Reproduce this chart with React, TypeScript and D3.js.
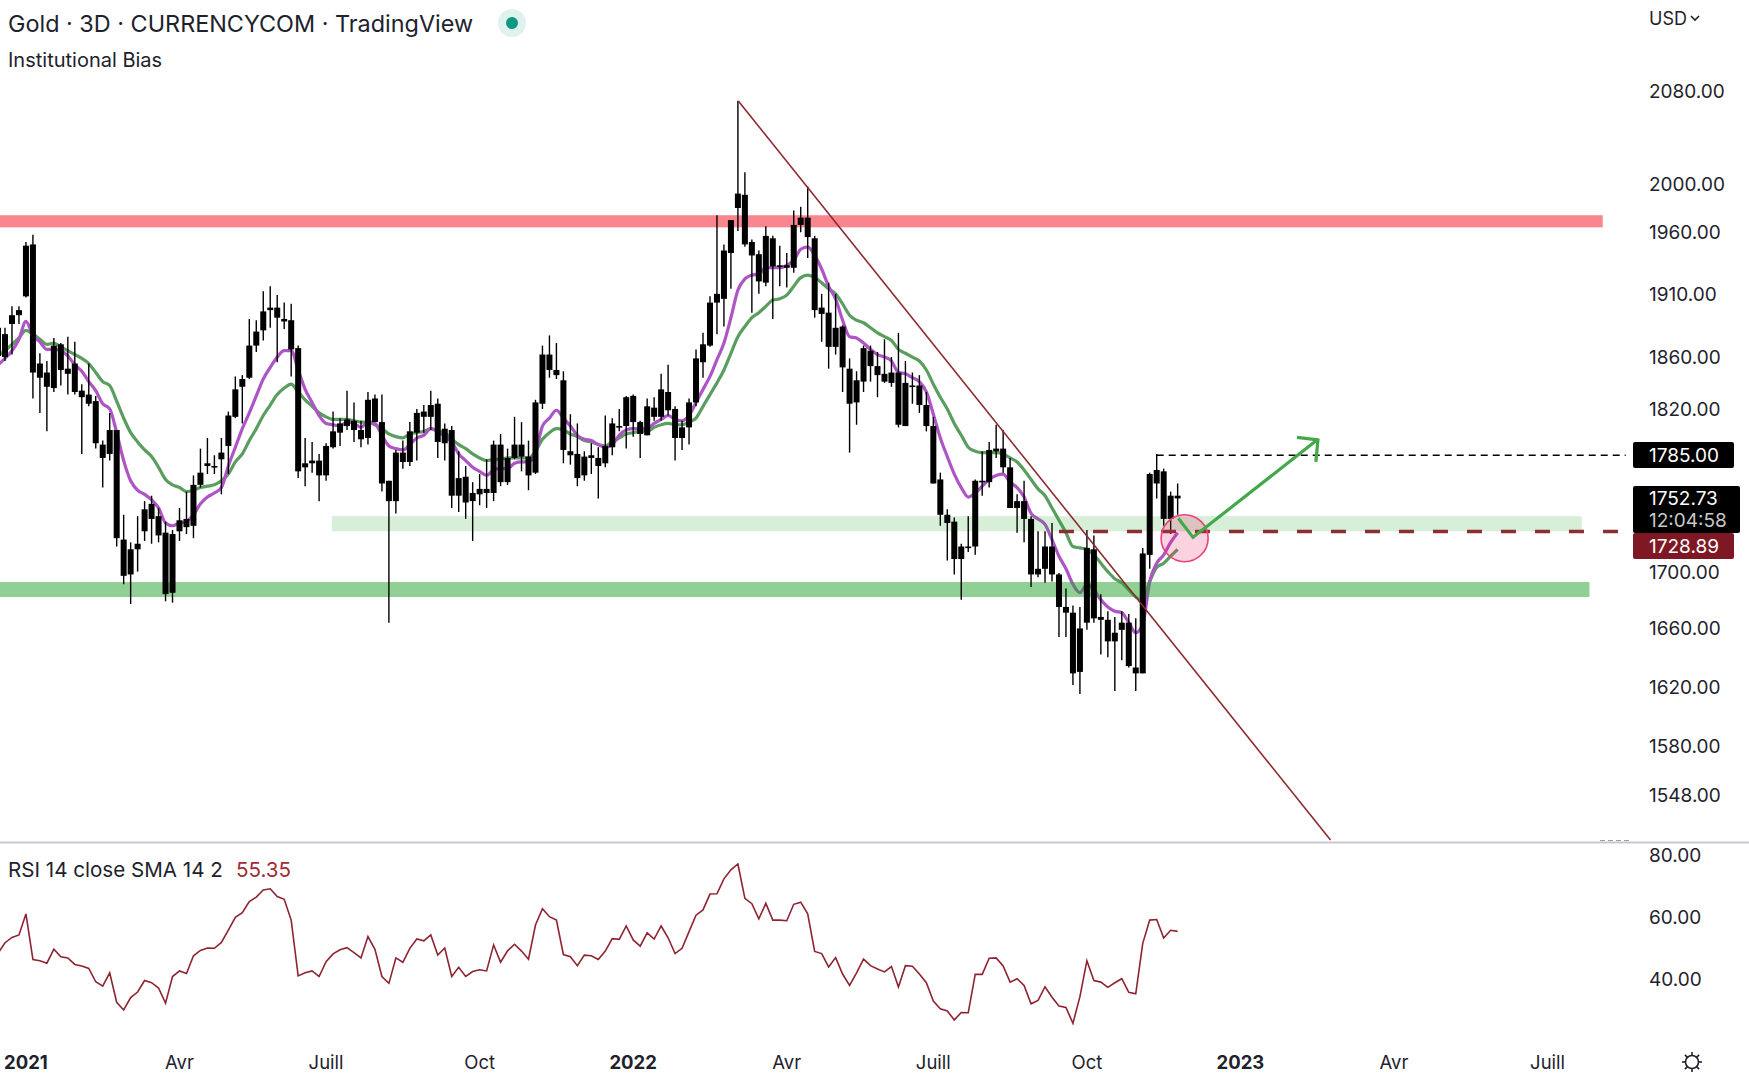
import React from "react";
import * as d3 from "d3";

const highs = [1884,1883,1900,1900,1952,1958,1863,1857,1875,1871,1876,1872,1839,1855,1830,1796,1817,1804,1741,1721,1740,1751,1755,1746,1736,1730,1746,1758,1770,1790,1798,1785,1798,1818,1845,1846,1890,1889,1912,1916,1909,1903,1902,1869,1798,1795,1786,1794,1818,1813,1834,1825,1811,1833,1831,1831,1766,1789,
1796,1810,1820,1823,1834,1828,1809,1807,1788,1777,1765,1771,1782,1796,1801,1790,1814,1810,1796,1827,1869,1877,1871,1849,1816,1809,1788,1794,1791,1815,1813,1820,1830,1831,1811,1828,1829,1847,1854,1822,1811,1828,1866,1879,1908,1974,1950,1970,
2071,2010,1954,1945,1965,1957,1949,1943,1978,1981,1998,1957,1910,1919,1910,1885,1859,1849,1869,1869,1864,1874,1860,1879,1857,1848,1846,1833,1814,
1772,1745,1739,1720,1740,1767,1788,1795,1808,1804,1783,1756,1766,1740,1729,1729,1735,1699,1688,1676,1675,1730,1726,1684,1672,1668,1672,1670,1667,1717,1772,1786,1775,1758,1764];
const bodyHighs = [1883,1878,1893,1897,1949,1950,1855,1848,1869,1870,1851,1855,1834,1831,1826,1793,1804,1804,1723,1716,1720,1745,1749,1740,1728,1727,1737,1738,1763,1772,1779,1777,1787,1815,1835,1843,1869,1880,1896,1899,1899,1890,1889,1867,1779,1781,1781,1792,1803,1809,1812,1811,1804,1827,1828,1810,1766,1787,
1787,1803,1817,1818,1823,1824,1805,1804,1768,1769,1757,1760,1760,1793,1793,1783,1793,1793,1784,1825,1862,1862,1850,1842,1788,1786,1784,1785,1783,1792,1809,1807,1829,1830,1810,1822,1821,1835,1833,1820,1806,1825,1859,1870,1903,1910,1945,1970,
1992,1991,1952,1942,1957,1955,1933,1933,1966,1972,1972,1955,1899,1895,1883,1884,1851,1842,1867,1865,1853,1847,1848,1848,1840,1838,1838,1823,1807,
1767,1741,1736,1718,1718,1766,1766,1789,1790,1790,1776,1751,1751,1738,1702,1718,1718,1698,1675,1671,1660,1717,1716,1668,1666,1657,1664,1664,1633,1713,1771,1774,1773,1755,1755];
const bodyLows = [1861,1860,1886,1893,1908,1848,1844,1837,1836,1850,1847,1833,1829,1824,1794,1783,1786,1724,1697,1698,1716,1729,1738,1726,1684,1685,1729,1732,1733,1763,1777,1776,1782,1792,1814,1837,1844,1869,1881,1897,1891,1888,1866,1773,1776,1779,1770,1770,1791,1802,1807,1804,1797,1798,1810,1764,1751,1751,
1780,1780,1802,1814,1814,1795,1794,1755,1755,1750,1751,1756,1757,1757,1765,1765,1783,1784,1770,1772,1824,1850,1846,1789,1785,1768,1770,1783,1777,1779,1791,1806,1807,1810,1801,1800,1814,1814,1819,1798,1798,1806,1825,1856,1869,1903,1906,1943,
1980,1950,1941,1920,1919,1932,1932,1931,1931,1966,1956,1897,1894,1868,1868,1852,1824,1825,1841,1853,1846,1841,1840,1808,1807,1837,1823,1807,1764,
1741,1735,1709,1709,1717,1718,1765,1765,1788,1776,1746,1746,1738,1698,1698,1702,1698,1675,1671,1629,1630,1664,1667,1666,1651,1651,1659,1634,1629,1629,1712,1764,1738,1738,1753];
const lows = [1858,1857,1862,1886,1907,1828,1817,1803,1833,1838,1831,1831,1786,1822,1790,1761,1781,1718,1691,1677,1700,1722,1720,1721,1679,1678,1722,1727,1724,1761,1771,1771,1756,1771,1813,1809,1843,1864,1873,1883,1856,1882,1845,1768,1762,1772,1751,1766,1790,1792,1804,1795,1791,1793,1810,1758,1664,1742,
1775,1777,1781,1802,1804,1783,1781,1746,1743,1738,1722,1748,1746,1751,1762,1763,1782,1773,1759,1771,1820,1844,1843,1779,1778,1762,1766,1771,1753,1776,1785,1803,1790,1799,1783,1800,1811,1811,1815,1781,1789,1793,1822,1844,1868,1878,1884,1914,
1961,1948,1895,1910,1916,1890,1916,1915,1927,1960,1939,1891,1872,1851,1862,1833,1787,1808,1833,1841,1829,1840,1837,1806,1807,1824,1817,1803,1764,
1733,1708,1698,1680,1714,1712,1755,1761,1783,1772,1746,1728,1721,1689,1696,1692,1693,1654,1654,1621,1615,1659,1664,1642,1640,1617,1638,1633,1617,1629,1702,1753,1733,1727,1741];

const purpleLine = [1854,1859,1865,1874,1888,1877,1872,1866,1866,1865,1861,1854,1849,1841,1834,1824,1820,1802,1781,1766,1759,1756,1752,1746,1735,1733,1735,1736,1741,1749,1754,1757,1761,1777,1791,1805,1817,1830,1843,1852,1860,1865,1865,1850,1835,1825,1815,1809,1808,1807,1810,1809,1806,1810,1809,1800,1792,1790,
1789,1793,1798,1800,1805,1803,1799,1795,1786,1781,1776,1773,1770,1774,1775,1775,1779,1780,1780,1787,1807,1813,1819,1813,1807,1800,1797,1796,1793,1791,1793,1800,1804,1805,1805,1805,1809,1812,1815,1812,1811,1815,1825,1835,1845,1858,1871,1891,
1913,1922,1925,1926,1931,1931,1931,1933,1937,1946,1948,1941,1930,1916,1906,1889,1876,1875,1871,1866,1862,1860,1857,1848,1847,1844,1841,1833,1816,
1798,1784,1771,1761,1754,1757,1762,1767,1770,1771,1765,1761,1754,1742,1738,1734,1723,1711,1702,1691,1685,1691,1687,1680,1675,1672,1671,1664,1657,1663,1693,1706,1712,1721,1728];
const greenLine = [1861,1865,1870,1875,1881,1878,1874,1870,1871,1868,1865,1862,1859,1855,1848,1841,1838,1826,1813,1802,1795,1789,1784,1776,1767,1763,1761,1758,1759,1761,1762,1763,1766,1771,1780,1786,1796,1805,1815,1823,1831,1836,1839,1833,1827,1822,1817,1814,1812,1812,1812,1811,1810,1810,1808,1805,1801,1799,
1798,1801,1802,1803,1805,1803,1802,1797,1793,1790,1786,1783,1781,1782,1782,1783,1783,1783,1783,1788,1797,1802,1805,1804,1801,1799,1796,1795,1793,1792,1795,1798,1801,1802,1803,1803,1806,1808,1809,1808,1808,1810,1813,1822,1831,1840,1850,1863,
1876,1884,1891,1895,1900,1905,1906,1909,1916,1923,1925,1923,1919,1914,1910,1902,1893,1889,1887,1883,1879,1876,1873,1866,1863,1860,1857,1850,1839,
1829,1820,1809,1800,1791,1788,1787,1787,1787,1786,1783,1780,1774,1767,1760,1755,1746,1737,1728,1718,1717,1716,1712,1706,1700,1695,1692,1687,1682,1680,1693,1703,1706,1711,1716];

const rsiValues = [48.3,51.7,53.4,54.2,61.0,46.3,45.9,45.1,49.6,47.2,46.8,44.7,44.2,43.4,39.1,37.7,42.0,32.5,30.0,34.0,35.8,39.5,38.8,37.1,32.2,40.8,42.6,41.8,47.5,49.2,50.0,49.9,51.8,55.8,59.9,61.4,65.0,66.4,68.7,69.1,66.6,65.7,59.0,41.0,42.0,42.6,40.8,45.6,48.1,49.4,50.1,48.5,46.8,53.7,49.6,40.8,38.6,46.8,45.4,49.9,52.9,52.3,54.2,47.7,50.0,40.8,43.8,40.8,42.4,43.0,42.6,51.0,45.4,49.1,51.2,49.0,46.4,57.4,62.7,60.1,59.0,47.9,47.2,44.3,47.7,47.5,46.3,49.0,53.0,52.8,57.1,52.6,50.6,54.9,52.9,57.1,53.3,48.2,49.9,55.3,60.6,62.3,67.4,67.5,72.3,75.2,77.1,66.0,64.3,59.4,64.4,59.0,59.0,58.8,64.1,64.8,61.0,48.9,48.2,43.9,46.9,41.6,37.9,42.0,46.4,44.3,43.2,42.3,44.0,37.4,44.3,44.1,41.6,38.8,32.9,30.4,29.7,26.8,29.2,29.1,41.5,41.5,46.7,46.8,44.2,39.0,40.1,37.9,32.0,33.1,37.5,34.1,31.3,30.8,25.7,34.3,45.9,39.5,39.0,37.3,38.8,40.1,35.7,35.2,51.5,59.0,59.2,53.2,55.7,55.35];

const priceTicks = [2080,2000,1960,1910,1860,1820,1700,1660,1620,1580,1548];
const rsiTicks = [80,60,40];
const timeTickBars = [4,26,47,69,91,113,134,156,178,200,222];
const timeTickLabels = ["2021","Avr","Juill","Oct","2022","Avr","Juill","Oct","2023","Avr","Juill"];
const yearLabels = ["2021","2022","2023"];

// zones as [first bar, last bar, top price, bottom price]
const redZone = [0,229.9,1974,1964];
const lightGreenZone = [47.85,226.9,1740,1729];
const greenZone = [0,228,1692.6,1682];
// drawings as bar index / price pairs
const trendLine: [number,number][] = [[106.06,2070.9],[190.9,1519]];
const arrowPath: [number,number][] = [[169.1,1738.4],[171.2,1724.6],[189.1,1797]];
const arrowHead: [number,number][] = [[186.1,1798.5],[189.1,1796.5],[188.8,1780]];
const targetLine = {bar0:166,bar1:233.2,price:1785};
const lastLine = {bar0:152,bar1:232.5,price:1728.89};
const circlePoint = {bar:170,price:1724};
const lastPrice = "1752.73", countdown = "12:04:58", closeLabel = "1728.89", targetLabel = "1785.00", rsiLast = "55.35";

const FONT = "Inter, 'Noto Sans', sans-serif";
const TXT = "#1e222d";

export default function App() {
  const x = d3.scaleLinear().domain([0,169]).range([-1.98,1177.64]);
  const y = d3.scaleLog().domain([2080,1548]).range([90.5,795]);
  const r = d3.scaleLinear().domain([80,40]).range([855,979]);
  const mainLine = d3.line<number>().x((_,i)=>x(i)).y(d=>y(d)).curve(d3.curveMonotoneX);
  const rsiLine = d3.line<number>().x((_,i)=>x(i)).y(d=>r(d));
  const drawLine = d3.line<[number,number]>().x(d=>x(d[0])).y(d=>y(d[1]));
  const zone = (z:number[], fill:string) => (
    <rect x={x(z[0])} width={x(z[1])-x(z[0])} y={y(z[2])} height={y(z[3])-y(z[2])} fill={fill}/>
  );
  const axisX = 1649;
  const axisSize = 19;
  return (
    <svg width={1749} height={1080} viewBox="0 0 1749 1080" style={{position:"fixed",left:0,top:0,background:"#fff"}} fontFamily={FONT}>
      <defs><clipPath id="pane"><rect x={0} y={0} width={1749} height={841}/></clipPath></defs>
      <text x={8} y={32} fontSize={23.4} fill={TXT}>Gold · 3D · CURRENCYCOM · TradingView</text>
      <circle cx={512} cy={23} r={14} fill="#e0f2ee"/>
      <circle cx={512} cy={23} r={6} fill="#089981"/>
      <text x={8} y={67} fontSize={20} fill={TXT}>Institutional Bias</text>
      <text x={1649} y={24.5} fontSize={18} fill={TXT}>USD</text>
      <path d="M1691 16l4 4 4-4" fill="none" stroke={TXT} strokeWidth={1.6}/>

      <g clipPath="url(#pane)">
        <path d={mainLine(greenLine)!} fill="none" stroke="#5a9e5f" strokeWidth={3.2}/>
        <path d={mainLine(purpleLine)!} fill="none" stroke="#ae55c6" strokeWidth={3.2}/>
        {zone(redZone,"rgba(243,11,31,0.5)")}
        {zone(lightGreenZone,"rgba(35,161,41,0.18)")}
        {zone(greenZone,"rgba(35,161,41,0.5)")}
        <g>
          {highs.map((h,i)=>(
            <line key={i} x1={x(i)} x2={x(i)} y1={y(h)} y2={y(lows[i])} stroke="#000" strokeWidth={1.4}/>
          ))}
          {bodyHighs.map((b,i)=>(
            <rect key={i} x={x(i)-3} width={6} y={y(b)} height={Math.max(1.6,y(bodyLows[i])-y(b))} fill="#000"/>
          ))}
        </g>
        <path d={drawLine(trendLine)!} fill="none" stroke="#8c2a30" strokeWidth={1.6}/>
        <line x1={x(targetLine.bar0)} x2={x(targetLine.bar1)} y1={y(targetLine.price)} y2={y(targetLine.price)} stroke="#000" strokeWidth={1.5} strokeDasharray="7 5"/>
        <line x1={x(lastLine.bar0)} x2={x(lastLine.bar1)} y1={y(lastLine.price)} y2={y(lastLine.price)} stroke="#8a2f33" strokeWidth={3.6} strokeDasharray="15 19"/>
        <circle cx={x(circlePoint.bar)} cy={y(circlePoint.price)} r={23.5} fill="rgba(233,30,99,0.2)" stroke="#ec407a" strokeWidth={1.6}/>
        <path d={drawLine(arrowPath)!} fill="none" stroke="#43a84a" strokeWidth={3.2}/>
        <path d={drawLine(arrowHead)!} fill="none" stroke="#43a84a" strokeWidth={3.2}/>
      </g>

      {priceTicks.map(p=>(
        <text key={p} x={axisX} y={y(p)+7} fontSize={axisSize} fill={TXT}>{p.toFixed(2)}</text>
      ))}
      <rect x={1633} y={442} width={101} height={26} rx={2} fill="#000"/>
      <text x={axisX} y={y(1785)+7} fontSize={axisSize} fill="#fff">{targetLabel}</text>
      <rect x={1633} y={486} width={107} height={47} rx={2} fill="#000"/>
      <text x={axisX} y={505} fontSize={axisSize} fill="#fff">{lastPrice}</text>
      <text x={axisX} y={526.5} fontSize={axisSize} fill="#c8c8c8">{countdown}</text>
      <rect x={1633} y={533} width={101} height={26} rx={2} fill="#7f1825"/>
      <text x={axisX} y={553} fontSize={axisSize} fill="#fff">{closeLabel}</text>

      <line x1={0} x2={1749} y1={842.5} y2={842.5} stroke="#c6c9d1" strokeWidth={2}/>
      <line x1={1600} x2={1632} y1={840.5} y2={840.5} stroke="#9aa0aa" strokeWidth={1} strokeDasharray="5 3"/>

      <text x={8} y={877} fontSize={20.6} fill={TXT}>RSI 14 close SMA 14 2</text>
      <text x={236} y={877} fontSize={20.6} fill="#a12c36">{rsiLast}</text>
      <path d={rsiLine(rsiValues)!} fill="none" stroke="#8e2430" strokeWidth={1.6}/>
      {rsiTicks.map(t=>(
        <text key={t} x={axisX} y={r(t)+7} fontSize={axisSize} fill={TXT}>{t.toFixed(2)}</text>
      ))}

      {timeTickBars.map((b,i)=>(
        <text key={i} x={x(b)} y={1068.5} fontSize={18.5} textAnchor="middle" fill={TXT}
          fontWeight={yearLabels.includes(timeTickLabels[i])?700:400}>{timeTickLabels[i]}</text>
      ))}
      <g transform="translate(1692,1062)" fill="none" stroke={TXT} strokeWidth={1.6}>
        <circle r={6.5}/>
        {d3.range(8).map(k=>{
          const a = k*Math.PI/4;
          return <line key={k} x1={Math.cos(a)*6.5} y1={Math.sin(a)*6.5} x2={Math.cos(a)*10} y2={Math.sin(a)*10}/>;
        })}
      </g>
    </svg>
  );
}
